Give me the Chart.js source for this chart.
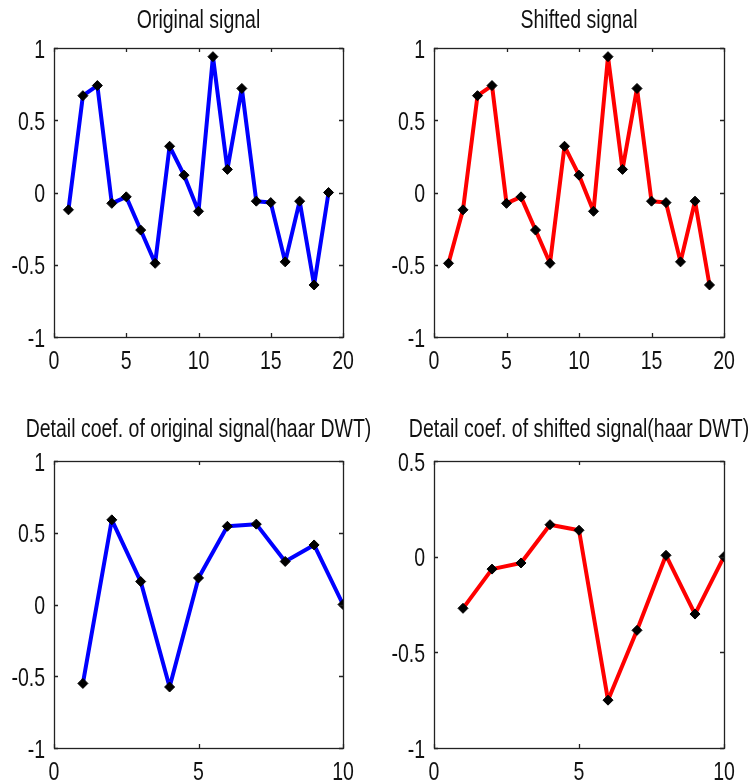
<!DOCTYPE html>
<html>
<head>
<meta charset="utf-8">
<script src="https://cdn.jsdelivr.net/npm/chart.js@4.4.0/dist/chart.umd.min.js"></script>
<style>
  html, body { margin: 0; padding: 0; background: #fff; }
  #wrap { position: relative; width: 751px; height: 784px; overflow: hidden; }
  .cell { position: absolute; }
</style>
</head>
<body>
<div id="wrap">
  <div class="cell" style="left:0;top:0;width:375px;height:390px"><canvas id="c1"></canvas></div>
  <div class="cell" style="left:375px;top:0;width:376px;height:390px"><canvas id="c2"></canvas></div>
  <div class="cell" style="left:0;top:390px;width:375px;height:394px"><canvas id="c3"></canvas></div>
  <div class="cell" style="left:375px;top:390px;width:376px;height:394px"><canvas id="c4"></canvas></div>
</div>
<script>
// signal samples and haar detail coefficients
const originalSignal = [-0.12, 0.67, 0.74, -0.075, -0.03, -0.26, -0.49, 0.32, 0.12, -0.13,
                        0.94, 0.16, 0.72, -0.06, -0.07, -0.48, -0.06, -0.64, 0.0];
const shiftedSignal  = [-0.49, -0.12, 0.67, 0.74, -0.075, -0.03, -0.26, -0.49, 0.32, 0.12,
                        -0.13, 0.94, 0.16, 0.72, -0.06, -0.07, -0.48, -0.06, -0.64];
const detailOriginal = [-0.55, 0.59, 0.16, -0.575, 0.185, 0.545, 0.56, 0.30, 0.415, 0.0];
const detailShifted  = [-0.27, -0.065, -0.033, 0.167, 0.138, -0.75, -0.385, 0.007, -0.30, 0.0];

const signalXTicks = [0, 5, 10, 15, 20];
const detailXTicks = [0, 5, 10];
const fullYTicks = [-1, -0.5, 0, 0.5, 1];
const shiftedDetailYTicks = [-1, -0.5, 0, 0.5];

const FONT = "26px 'Liberation Sans', Arial, sans-serif";
const SQUEEZE = 0.75;   // narrow, matlab-ish lettering

function narrowText(ctx, text, x, y, align) {
  ctx.save();
  ctx.translate(x, y);
  ctx.scale(SQUEEZE, 1);
  ctx.textAlign = align;
  ctx.textBaseline = 'alphabetic';
  ctx.fillText(text, 0, 0);
  ctx.restore();
}

// axes box, inward tick marks on all four sides, tick labels and title
const matlabAxes = {
  id: 'matlabAxes',
  afterDraw(chart, args, opts) {
    const { ctx, chartArea: a, scales } = chart;
    const len = 4;
    ctx.save();
    ctx.strokeStyle = '#222';
    ctx.lineWidth = 1.3;
    ctx.strokeRect(a.left + 0.5, a.top + 0.5, a.right - a.left, a.bottom - a.top);
    ctx.beginPath();
    scales.x.ticks.forEach(t => {
      const px = Math.round(scales.x.getPixelForValue(t.value)) + 0.5;
      ctx.moveTo(px, a.bottom); ctx.lineTo(px, a.bottom - len);
      ctx.moveTo(px, a.top); ctx.lineTo(px, a.top + len);
    });
    scales.y.ticks.forEach(t => {
      const py = Math.round(scales.y.getPixelForValue(t.value)) + 0.5;
      ctx.moveTo(a.left, py); ctx.lineTo(a.left + len, py);
      ctx.moveTo(a.right, py); ctx.lineTo(a.right - len, py);
    });
    ctx.stroke();

    ctx.fillStyle = '#111';
    ctx.font = FONT;
    scales.x.ticks.forEach(t => {
      narrowText(ctx, String(t.value), scales.x.getPixelForValue(t.value), a.bottom + 32, 'center');
    });
    scales.y.ticks.forEach(t => {
      narrowText(ctx, String(t.value), a.left - 9, scales.y.getPixelForValue(t.value) + 9.5, 'right');
    });
    narrowText(ctx, opts.text, (a.left + a.right) / 2, a.top - opts.titleGap, 'center');
    ctx.restore();
  }
};

function makePlot(id, o) {
  const points = o.values.map((v, i) => ({ x: i + 1, y: v }));
  return new Chart(document.getElementById(id), {
    type: 'line',
    data: {
      datasets: [{
        data: points,
        borderColor: o.color,
        borderWidth: 4,
        borderJoinStyle: 'round',
        pointStyle: 'rectRot',
        pointRadius: 5,
        pointBackgroundColor: '#000',
        pointBorderColor: '#000',
        pointBorderWidth: 1,
        tension: 0,
        fill: false
      }]
    },
    options: {
      responsive: true,
      maintainAspectRatio: false,
      animation: false,
      events: [],
      layout: { padding: { top: o.top, right: o.right, bottom: 0, left: 0 } },
      plugins: {
        legend: { display: false },
        tooltip: { enabled: false },
        title: { display: false },
        matlabAxes: { text: o.title, titleGap: o.titleGap }
      },
      scales: {
        x: {
          type: 'linear',
          min: o.xTicks[0],
          max: o.xTicks[o.xTicks.length - 1],
          afterBuildTicks: s => { s.ticks = o.xTicks.map(v => ({ value: v })); },
          afterFit: s => { s.height = o.bottom; },
          grid: { display: false, drawTicks: false },
          border: { display: false },
          ticks: { display: false }
        },
        y: {
          min: o.yTicks[0],
          max: o.yTicks[o.yTicks.length - 1],
          afterBuildTicks: s => { s.ticks = o.yTicks.map(v => ({ value: v })); },
          afterFit: s => { s.width = o.left; },
          grid: { display: false, drawTicks: false },
          border: { display: false },
          ticks: { display: false }
        }
      }
    },
    plugins: [matlabAxes]
  });
}

makePlot('c1', {
  title: 'Original signal', color: '#0000ff', values: originalSignal,
  xTicks: signalXTicks, yTicks: fullYTicks,
  left: 54, right: 32, top: 48, bottom: 53, titleGap: 20
});
makePlot('c2', {
  title: 'Shifted signal', color: '#ff0000', values: shiftedSignal,
  xTicks: signalXTicks, yTicks: fullYTicks,
  left: 59, right: 27, top: 48, bottom: 53, titleGap: 20
});
makePlot('c3', {
  title: 'Detail coef. of original signal(haar DWT)', color: '#0000ff', values: detailOriginal,
  xTicks: detailXTicks, yTicks: fullYTicks,
  left: 54, right: 32, top: 71, bottom: 36, titleGap: 24
});
makePlot('c4', {
  title: 'Detail coef. of shifted signal(haar DWT)', color: '#ff0000', values: detailShifted,
  xTicks: detailXTicks, yTicks: shiftedDetailYTicks,
  left: 59, right: 27, top: 71, bottom: 36, titleGap: 24
});
</script>
</body>
</html>
